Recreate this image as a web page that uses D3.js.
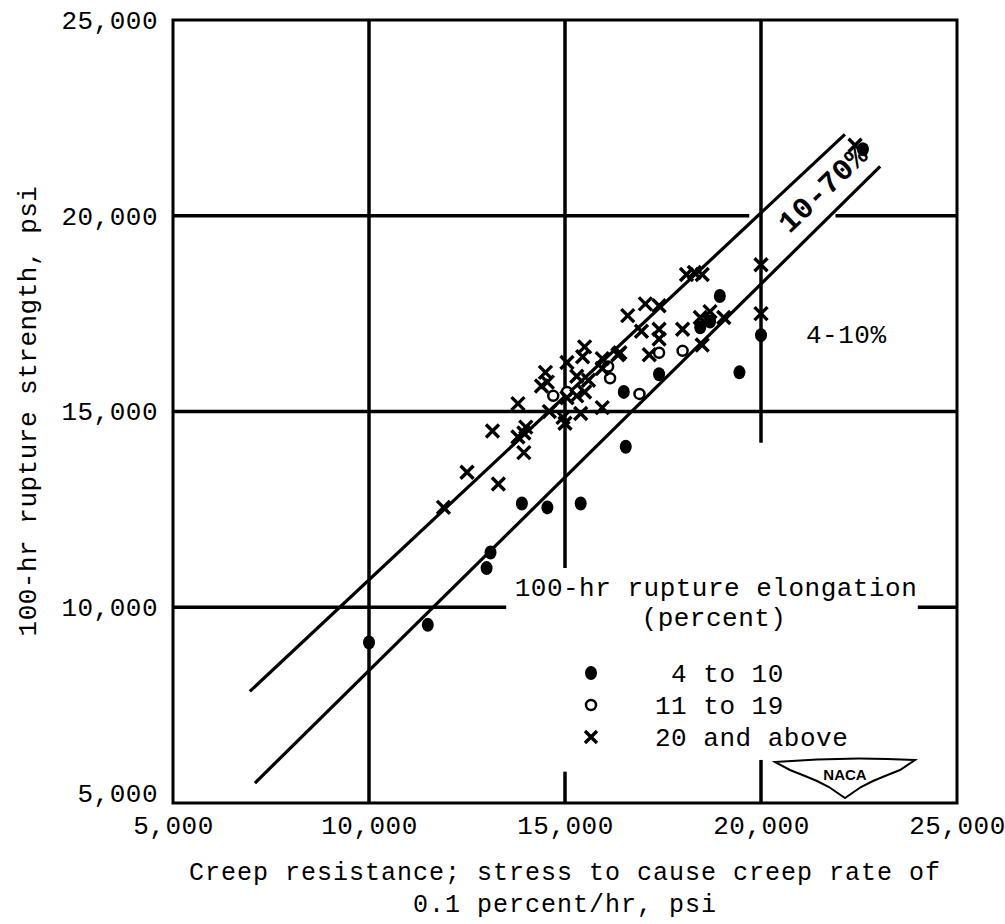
<!DOCTYPE html>
<html>
<head>
<meta charset="utf-8">
<script src="https://cdn.jsdelivr.net/npm/d3@7"></script>
<style>
  body { margin: 0; background: #fff; }
  text { font-family: "Liberation Mono", "DejaVu Sans Mono", monospace; fill: #000; letter-spacing: 0.5px; }
</style>
</head>
<body>
<svg id="chart" width="1005" height="924"></svg>
<script>
// ticks
var xTicks = [5000, 10000, 15000, 20000, 25000];
var yTicks = [5000, 10000, 15000, 20000, 25000];

// 4 to 10 percent elongation (filled dots)
var lowElong = [
  [10000, 9100], [11500, 9550], [13000, 11000], [13100, 11400], [13900, 12650],
  [14550, 12550], [15400, 12650], [16500, 15500], [16550, 14100], [17400, 15950],
  [18450, 17150], [18700, 17300], [18950, 17950], [19450, 16000], [20000, 16950],
  [22600, 21700]
];

// 11 to 19 percent (open circles)
var midElong = [
  [14700, 15400], [15050, 15500], [16100, 16150], [16150, 15850], [16900, 15450],
  [17400, 16500], [18000, 16550]
];

// 20 and above (crosses)
var highElong = [
  [11900, 12550], [12500, 13450], [13300, 13150], [13150, 14500], [13800, 15200],
  [13800, 14350], [13950, 14450], [14000, 14600], [13950, 13950], [14500, 16000],
  [14400, 15650], [14550, 15750], [14600, 15000], [14950, 14850], [15000, 14700],
  [15400, 14950], [15950, 15100], [15500, 16650], [15450, 16400], [15950, 16350],
  [16400, 16500], [15050, 16250], [15300, 15900], [15050, 15350], [15300, 15400],
  [15500, 15500], [15600, 15800], [16600, 17450], [17050, 17750], [17400, 17700],
  [16950, 17050], [17400, 17100], [17400, 16850], [17150, 16450], [16350, 16450],
  [15950, 16100], [18000, 17100], [18450, 17400], [18700, 17550], [19050, 17400],
  [18500, 16700], [18100, 18500], [18300, 18550], [18500, 18500], [20000, 18750],
  [20000, 17500], [22400, 21800]
];

// band lines
var upperBand = [[6960, 7850], [22140, 22080]];
var lowerBand = [[7090, 5510], [23040, 21260]];

// grid lines (value, pieces along the other axis)
var hGrid = [
  { v: 10000, pieces: [[5000, 13500], [24000, 25000]] },
  { v: 15000, pieces: [[5000, 25000]] },
  { v: 20000, pieces: [[5000, 19700], [21900, 25000]] }
];
var vGrid = [
  { v: 10000, pieces: [[5000, 25000]] },
  { v: 15000, pieces: [[5000, 5800], [11000, 25000]] },
  { v: 20000, pieces: [[5000, 6100], [14200, 25000]] }
];

var legendItems = [
  { label: " 4 to 10", kind: "filled" },
  { label: "11 to 19", kind: "open" },
  { label: "20 and above", kind: "cross" }
];

var svg = d3.select("#chart");
var x = d3.scaleLinear().domain([5000, 25000]).range([173, 957]);
var y = d3.scaleLinear().domain([5000, 25000]).range([803, 20]);
var fmt = d3.format(",");
var fs = 26;

// grid
var grid = svg.append("g").attr("stroke", "#000").attr("stroke-width", 3.5);
hGrid.forEach(function (g) {
  g.pieces.forEach(function (p) {
    grid.append("line").attr("x1", x(p[0])).attr("x2", x(p[1]))
      .attr("y1", y(g.v)).attr("y2", y(g.v));
  });
});
vGrid.forEach(function (g) {
  g.pieces.forEach(function (p) {
    grid.append("line").attr("y1", y(p[0])).attr("y2", y(p[1]))
      .attr("x1", x(g.v)).attr("x2", x(g.v));
  });
});

// frame
svg.append("rect")
  .attr("x", x(5000)).attr("y", y(25000))
  .attr("width", x(25000) - x(5000)).attr("height", y(5000) - y(25000))
  .attr("fill", "none").attr("stroke", "#000").attr("stroke-width", 3);

// axes (labels only)
var xAxis = svg.append("g").attr("transform", "translate(0," + y(5000) + ")")
  .call(d3.axisBottom(x).tickValues(xTicks).tickFormat(fmt).tickSize(0).tickPadding(13));
var yAxis = svg.append("g").attr("transform", "translate(" + x(5000) + ",0)")
  .call(d3.axisLeft(y).tickValues(yTicks).tickFormat(fmt).tickSize(0).tickPadding(15));
[xAxis, yAxis].forEach(function (a) {
  a.select(".domain").remove();
  a.selectAll("text").attr("font-size", fs)
    .style("font-family", "'Liberation Mono', monospace").attr("fill", "#000");
});
// keep the lowest y label clear of the x label below it
yAxis.selectAll(".tick").filter(function (d) { return d === 5000; })
  .select("text").attr("dy", "-0.05em");

// band lines
var line = d3.line().x(function (d) { return x(d[0]); }).y(function (d) { return y(d[1]); });
[upperBand, lowerBand].forEach(function (b) {
  svg.append("path").datum(b).attr("d", line)
    .attr("fill", "none").attr("stroke", "#000").attr("stroke-width", 3.2);
});

// markers
function drawCross(sel, cx, cy, r) {
  sel.append("path")
    .attr("d", "M" + (cx - r) + "," + (cy - r) + "L" + (cx + r) + "," + (cy + r) +
      "M" + (cx - r) + "," + (cy + r) + "L" + (cx + r) + "," + (cy - r))
    .attr("stroke", "#000").attr("stroke-width", 3.4).attr("fill", "none");
}
var pts = svg.append("g");
pts.selectAll("ellipse.f").data(lowElong).enter().append("ellipse")
  .attr("cx", function (d) { return x(d[0]); })
  .attr("cy", function (d) { return y(d[1]); })
  .attr("rx", 6).attr("ry", 7).attr("fill", "#000");
pts.selectAll("circle.o").data(midElong).enter().append("circle")
  .attr("cx", function (d) { return x(d[0]); })
  .attr("cy", function (d) { return y(d[1]); })
  .attr("r", 5).attr("fill", "#fff").attr("stroke", "#000").attr("stroke-width", 2.5);
highElong.forEach(function (d) { drawCross(pts, x(d[0]), y(d[1]), 6.5); });

// band labels
svg.append("text").attr("transform", "translate(824,190) rotate(-44)")
  .attr("text-anchor", "middle").attr("dominant-baseline", "central")
  .attr("font-size", 30).attr("font-weight", "bold").text("10-70%");
svg.append("text").attr("x", 806).attr("y", 343)
  .attr("font-size", fs).text("4-10%");

// legend
var lg = svg.append("g");
lg.append("text").attr("x", 716).attr("y", 596).attr("text-anchor", "middle")
  .attr("font-size", fs).text("100-hr rupture elongation");
lg.append("text").attr("x", 714).attr("y", 626).attr("text-anchor", "middle")
  .attr("font-size", fs).text("(percent)");
legendItems.forEach(function (it, i) {
  var cy = 673 + i * 32;
  lg.append("text").attr("x", 655).attr("y", cy + 9).attr("font-size", fs)
    .attr("xml:space", "preserve").style("white-space", "pre").text(it.label);
  if (it.kind === "filled") lg.append("ellipse").attr("cx", 591).attr("cy", cy).attr("rx", 6).attr("ry", 7).attr("fill", "#000");
  if (it.kind === "open") lg.append("circle").attr("cx", 591).attr("cy", cy).attr("r", 5)
    .attr("fill", "#fff").attr("stroke", "#000").attr("stroke-width", 2.5);
  if (it.kind === "cross") drawCross(lg, 591, cy, 6);
});

// NACA badge
var naca = svg.append("g").attr("transform", "translate(845,778)");
naca.append("path")
  .attr("d", "M-70,-16 Q0,-22 70,-18 L55,-8 L40,-2 L28,3 L16,9 L0,20 L-16,9 L-28,3 L-40,-2 L-55,-8 Z")
  .attr("fill", "#fff").attr("stroke", "#000").attr("stroke-width", 2);
naca.append("text").attr("x", 0).attr("y", 2).attr("text-anchor", "middle")
  .attr("font-size", 15).style("font-family", "'Liberation Sans', sans-serif")
  .style("letter-spacing", "0").attr("font-weight", "bold").text("NACA");

// axis titles
svg.append("text").attr("x", 565).attr("y", 880).attr("text-anchor", "middle")
  .attr("font-size", 25).style("letter-spacing", "1px")
  .text("Creep resistance; stress to cause creep rate of");
svg.append("text").attr("x", 565).attr("y", 912).attr("text-anchor", "middle")
  .attr("font-size", 25).style("letter-spacing", "1px").text("0.1 percent/hr, psi");
svg.append("text").attr("transform", "translate(36,411) rotate(-90)")
  .attr("text-anchor", "middle").attr("font-size", fs).text("100-hr rupture strength, psi");
</script>
</body>
</html>
